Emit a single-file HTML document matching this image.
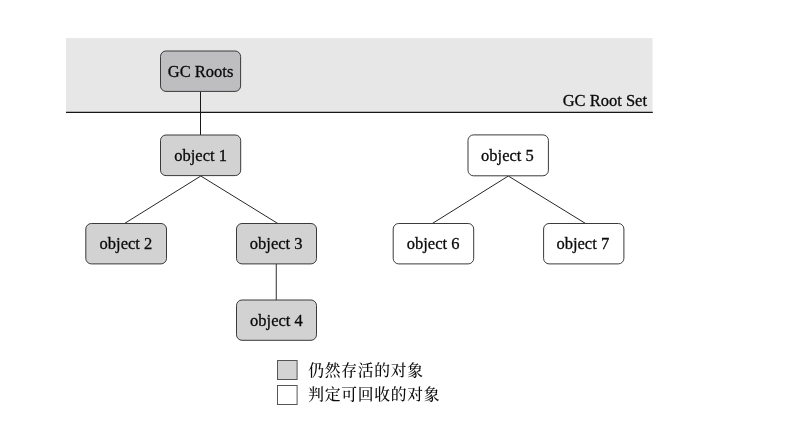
<!DOCTYPE html>
<html lang="zh-CN">
<head>
<meta charset="utf-8">
<title>GC Roots</title>
<style>
html,body{margin:0;padding:0;background:#fff;}
body{width:786px;height:422px;overflow:hidden;position:relative;}
svg{position:absolute;left:0;top:0;display:block;will-change:transform;}
text{font-family:"Liberation Serif","Noto Serif CJK SC",serif;fill:#0a0a0a;stroke:#0a0a0a;stroke-width:0.3;}
.lbl{font-size:16.5px;text-anchor:middle;}
.cjk{font-size:15.8px;letter-spacing:0.7px;stroke-width:0;font-weight:500;}
.box{stroke:#3a3a3a;stroke-width:1;}
.sq{stroke:#555;}
.ln{stroke:#262626;stroke-width:1;fill:none;}
.vl{stroke:#181818;stroke-width:1;fill:none;}
</style>
</head>
<body>
<svg width="786" height="422" viewBox="0 0 786 422">
  <rect x="66" y="38.1" width="586.5" height="74.4" fill="#e7e7e8"/>
  <line x1="66" y1="112.4" x2="652.8" y2="112.4" stroke="#161616" stroke-width="1.1"/>

  <line class="vl" x1="200.5" y1="91.5" x2="200.5" y2="135"/>
  <line class="ln" x1="200.8" y1="176" x2="124.5" y2="223.5"/>
  <line class="ln" x1="200.8" y1="176" x2="277.8" y2="223.5"/>
  <line class="vl" x1="276.25" y1="264" x2="276.25" y2="300" style="stroke:#2c2c2c"/>
  <line class="ln" x1="508.3" y1="176" x2="432.3" y2="223.5"/>
  <line class="ln" x1="508.3" y1="176" x2="585.6" y2="223.5"/>

  <rect class="box" x="160.5" y="51" width="80.1" height="40.4" rx="5.5" ry="5.5" fill="#bebec0"/>
  <text class="lbl" x="200.6" y="77">GC Roots</text>

  <rect class="box" x="160.5" y="135" width="80.2" height="40.6" rx="5.5" ry="5.5" fill="#d2d2d3"/>
  <text class="lbl" x="200.6" y="161">object 1</text>

  <rect class="box" x="85.8" y="223.5" width="80.7" height="40.4" rx="5.5" ry="5.5" fill="#d2d2d3"/>
  <text class="lbl" x="125.9" y="249">object 2</text>

  <rect class="box" x="236.5" y="223.5" width="80" height="40.4" rx="5.5" ry="5.5" fill="#d2d2d3"/>
  <text class="lbl" x="276.2" y="249">object 3</text>

  <rect class="box" x="236.5" y="300" width="80" height="40.3" rx="5.5" ry="5.5" fill="#d2d2d3"/>
  <text class="lbl" x="276.4" y="326">object 4</text>

  <rect class="box" x="468" y="134.9" width="80.4" height="40.9" rx="5.5" ry="5.5" fill="#ffffff"/>
  <text class="lbl" x="507.4" y="161">object 5</text>

  <rect class="box" x="393.2" y="223.5" width="80.5" height="40.4" rx="5.5" ry="5.5" fill="#ffffff"/>
  <text class="lbl" x="433.1" y="249">object 6</text>

  <rect class="box" x="543.6" y="223.5" width="80.3" height="40.4" rx="5.5" ry="5.5" fill="#ffffff"/>
  <text class="lbl" x="582.8" y="249">object 7</text>

  <text x="647" y="106" text-anchor="end" style="font-size:16.5px">GC Root Set</text>

  <rect class="box sq" x="277.5" y="360.5" width="19.6" height="19" fill="#d3d3d4"/>
  <text class="cjk" x="308.3" y="375.6">仍然存活的对象</text>
  <rect class="box sq" x="277.5" y="385.5" width="19.6" height="19" fill="#ffffff"/>
  <text class="cjk" x="308.3" y="400">判定可回收的对象</text>
</svg>
</body>
</html>
